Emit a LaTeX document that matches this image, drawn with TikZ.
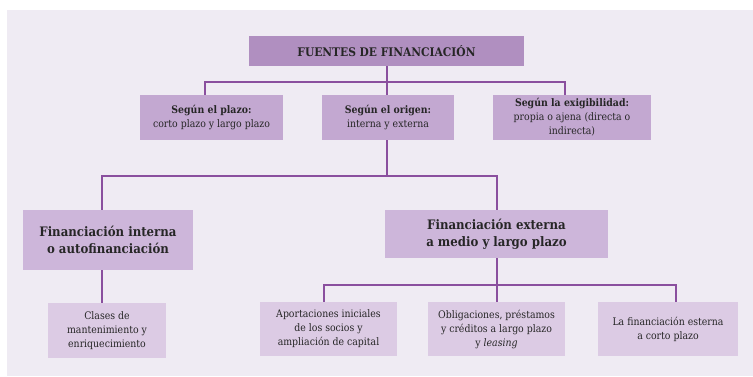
\documentclass[tikz,border=0pt]{standalone}
\usepackage{fontspec}
\setmainfont{DejaVu Serif Condensed}
\usetikzlibrary{positioning}

\definecolor{fondo}{HTML}{EFEBF3}
\definecolor{linea}{HTML}{8A4F9E}
\definecolor{nivela}{HTML}{B08FC0}
\definecolor{nivelb}{HTML}{C3A8D1}
\definecolor{nivelc}{HTML}{CDB6DA}
\definecolor{niveld}{HTML}{DCCBE4}

\begin{document}
\begin{tikzpicture}[x=0.75pt, y=-0.75pt,
    caja/.style={inner sep=0pt, align=center, text=black!85},
    titulo/.style={caja, fill=nivela, minimum width=275*0.75pt, minimum height=30*0.75pt,
      font=\fontsize{8.9}{10}\selectfont\bfseries},
    criterio/.style={caja, fill=nivelb, minimum height=45*0.75pt,
      font=\fontsize{7.8}{10.5}\selectfont},
    tipo/.style={caja, fill=nivelc, font=\fontsize{9.8}{13}\selectfont\bfseries},
    fuente/.style={caja, fill=niveld, minimum height=54*0.75pt,
      font=\fontsize{7.8}{10.5}\selectfont},
    rama/.style={draw=linea, line width=1.5pt}]
    % fondo y limites
    \useasboundingbox (0,0) rectangle (753,376);
    \fill[fondo] (7,10) rectangle (753,376);

    % We start by placing the blocks
    \node[titulo] (fuentes) at (386.5,51) {FUENTES DE FINANCIACIÓN};

    \node[criterio, minimum width=143*0.75pt] (plazo) at (211.5,117.5)
      {\textbf{Según el plazo:}\\corto plazo y largo plazo};
    \node[criterio, minimum width=132*0.75pt] (origen) at (388,117.5)
      {\textbf{Según el origen:}\\interna y externa};
    \node[criterio, minimum width=158*0.75pt] (exigib) at (572,117.5)
      {\textbf{Según la exigibilidad:}\\propia o ajena (directa o\\indirecta)};

    \node[tipo, minimum width=170*0.75pt, minimum height=60*0.75pt] (interna) at (108,240)
      {Financiación interna\\o autofinanciación};
    \node[tipo, minimum width=223*0.75pt, minimum height=48*0.75pt] (externa) at (496.5,234)
      {Financiación externa\\a medio y largo plazo};

    \node[fuente, minimum width=118*0.75pt, minimum height=55*0.75pt] (clases) at (107,330.5)
      {Clases de\\mantenimiento y\\enriquecimiento};
    \node[fuente, minimum width=137*0.75pt] (aportes) at (328.5,329)
      {Aportaciones iniciales\\de los socios y\\ampliación de capital};
    \node[fuente, minimum width=137*0.75pt] (obligac) at (496.5,329)
      {Obligaciones, préstamos\\y créditos a largo plazo\\y \textit{leasing}};
    \node[fuente, minimum width=140*0.75pt] (cortopl) at (668,329)
      {La financiación esterna\\a corto plazo};

    % puntos de reparto
    \coordinate (bus1) at (387,82);
    \coordinate (bus2) at (387,176);
    \coordinate (bus3) at (496.5,285);

    % conectores
    \draw[rama] (fuentes.south -| bus1) -- (bus1);
    \draw[rama] ([xshift=-5.25pt]plazo.north) |- (bus1) -| ([xshift=-5.25pt]exigib.north);
    \draw[rama] (bus1) -- (bus1 |- origen.north);

    \draw[rama] (bus2 |- origen.south) -- (bus2);
    \draw[rama] ([xshift=-4.5pt]interna.north) |- (bus2) -| (externa.north);

    \draw[rama] ([xshift=-4.5pt]interna.south) -- ([xshift=-4.5pt]interna.south |- clases.north);

    \draw[rama] (externa) -- (obligac.north);
    \draw[rama] ([xshift=-3.4pt]aportes.north) |- (bus3) -| ([xshift=6pt]cortopl.north);
  \end{tikzpicture}
\end{document}
